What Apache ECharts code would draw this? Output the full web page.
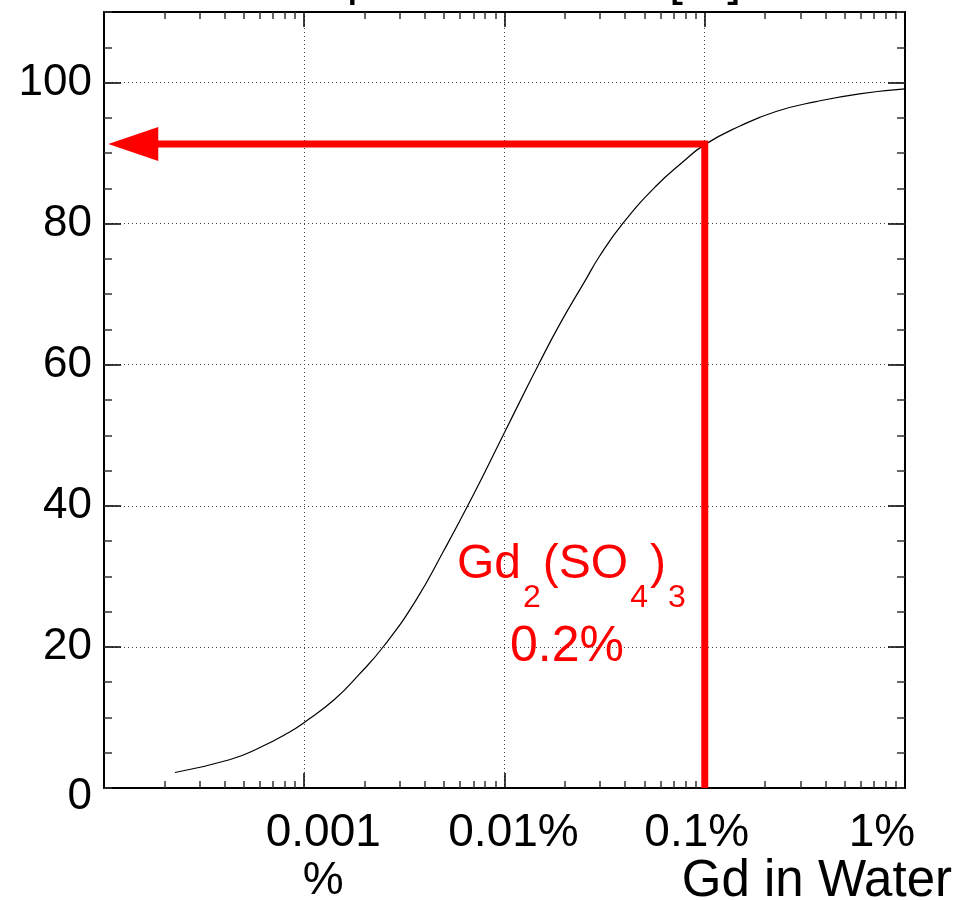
<!DOCTYPE html>
<html>
<head>
<meta charset="utf-8">
<script src="https://cdn.jsdelivr.net/npm/echarts@6/dist/echarts.min.js"></script>
<style>html,body{margin:0;padding:0;background:#fff}#c{width:957px;height:900px}</style>
</head>
<body>
<div id="c"></div>
<script>
// ---- data ----
const gdPercent = [2.26e-4, 4.23e-4, 5.97e-4, 8.41e-4, 1.0e-3, 1.41e-3, 1.88e-3, 2.51e-3, 3.61e-3, 5.01e-3,
  6.86e-3, 1.0e-2, 1.49e-2, 1.91e-2, 2.55e-2, 2.97e-2, 3.89e-2, 5.70e-2, 7.74e-2, 0.1,
  0.149, 0.227, 0.360, 0.592, 1.0];
const captureFraction = [2.2, 4.0, 5.7, 7.9, 9.3, 12.5, 16.1, 20.2, 26.6, 33.8,
  41.1, 50.4, 60.2, 66.0, 72.1, 75.3, 80.0, 85.3, 88.7, 91.2,
  93.8, 95.9, 97.3, 98.4, 99.1];
const xTickValues = [1e-4, 1e-3, 1e-2, 1e-1, 1];
const xTickLabels = ['', '0.001\n%', '0.01%', '0.1%', '1%'];
const yTickValues = [0, 20, 40, 60, 80, 100];
const markerGd = 0.1;          // Gd concentration of the red marker line (%)
const markerFraction = 91.3;   // capture fraction read at the marker (%)
const arrowHeadAt = 1.4e-4;    // x position of the arrow head centre (%)
const titleText = 'Capture Fraction [%]';
const xTitle = 'Gd in Water';
const noteConc = '0.2%';

// minor log ticks 2..9 per decade, expressed as decade exponents
const xMinorExp = [];
for (let e = -4; e < 0; e++) for (let m = 2; m <= 9; m++) xMinorExp.push(e + Math.log10(m));

const FONT = "'Liberation Sans', Arial, Helvetica, sans-serif";
const labelStyleKeys = ['n', 'a', 'b', 'c', 'd'];
const baseRich = {fontSize: 46, lineHeight: 48, fontFamily: FONT, color: '#000'};
const xRich = {
  n: Object.assign({}, baseRich),
  a: Object.assign({}, baseRich, {padding: [0, 0, 0, 38]}),
  b: Object.assign({}, baseRich, {padding: [0, 0, 0, 18]}),
  c: Object.assign({}, baseRich, {padding: [0, 16, 0, 0]}),
  d: Object.assign({}, baseRich, {padding: [0, 46, 0, 0]})
};
function xLabel(v) {
  const i = xTickValues.findIndex(t => Math.abs(Math.log10(t) - Math.log10(v)) < 1e-6);
  if (i < 0 || !xTickLabels[i]) return '';
  const k = labelStyleKeys[i];
  return xTickLabels[i].split('\n').map(s => '{' + k + '|' + s + '}').join('\n');
}
function yLabel(v) {
  if (yTickValues.indexOf(v) < 0) return '';
  if (v === 0) return '{z|0}';
  return '{y|' + v + '}';
}

const frame = {color: '#000', width: 2};
const majorTick = {color: '#000', width: 1.5};
const minorTickStyle = {color: '#333', width: 1.5};
const dotted = {color: '#444', width: 1, type: [1, 3]};

const xBase = {type: 'log', logBase: 10, min: 1e-4, max: 1, gridIndex: 0};
const xExpBase = {type: 'value', min: -4, max: 0, gridIndex: 0};
const yBase = {type: 'value', min: 0, max: 110, gridIndex: 0};

const chart = echarts.init(document.getElementById('c'), null, {renderer: 'canvas'});
chart.setOption({
  animation: false,
  backgroundColor: '#fff',
  grid: {left: 104, right: 52, top: 12, bottom: 112, outerBoundsMode: 'none', containLabel: false},
  xAxis: [
    Object.assign({}, xBase, {
      position: 'bottom',
      axisLine: {show: true, onZero: false, lineStyle: frame},
      axisTick: {show: true, inside: true, length: 15, customValues: xTickValues, lineStyle: majorTick},
      axisLabel: {show: true, customValues: xTickValues, margin: 21, formatter: xLabel, rich: xRich,
        fontSize: 46, fontFamily: FONT, color: '#000', showMinLabel: true, showMaxLabel: true, hideOverlap: false},
      splitLine: {show: true, lineStyle: dotted}
    }),
    Object.assign({}, xBase, {
      position: 'top',
      axisLine: {show: true, onZero: false, lineStyle: frame},
      axisTick: {show: true, inside: true, length: 15, customValues: xTickValues, lineStyle: majorTick},
      axisLabel: {show: false}, splitLine: {show: false}
    }),
    Object.assign({}, xExpBase, {
      position: 'bottom',
      axisLine: {show: false, onZero: false},
      axisTick: {show: true, inside: true, length: 7, customValues: xMinorExp, lineStyle: minorTickStyle},
      axisLabel: {show: false}, splitLine: {show: false}
    }),
    Object.assign({}, xExpBase, {
      position: 'top',
      axisLine: {show: false, onZero: false},
      axisTick: {show: true, inside: true, length: 7, customValues: xMinorExp, lineStyle: minorTickStyle},
      axisLabel: {show: false}, splitLine: {show: false}
    })
  ],
  yAxis: [
    Object.assign({}, yBase, {
      position: 'left', interval: 20,
      axisLine: {show: true, onZero: false, lineStyle: frame},
      axisTick: {show: true, inside: true, length: 17, lineStyle: majorTick},
      axisLabel: {show: true, margin: 12, formatter: yLabel, fontSize: 44, fontFamily: FONT, color: '#000',
        rich: {y: {fontSize: 44, fontFamily: FONT, color: '#000'},
               z: {fontSize: 44, fontFamily: FONT, color: '#000', padding: [18, 0, 0, 0]}}},
      splitLine: {show: true, lineStyle: dotted}
    }),
    Object.assign({}, yBase, {
      position: 'right', interval: 20,
      axisLine: {show: true, onZero: false, lineStyle: frame},
      axisTick: {show: true, inside: true, length: 17, lineStyle: majorTick},
      axisLabel: {show: false}, splitLine: {show: false}
    }),
    Object.assign({}, yBase, {
      position: 'left', interval: 5,
      axisLine: {show: false, onZero: false},
      axisTick: {show: true, inside: true, length: 8, lineStyle: minorTickStyle},
      axisLabel: {show: false}, splitLine: {show: false}
    }),
    Object.assign({}, yBase, {
      position: 'right', interval: 5,
      axisLine: {show: false, onZero: false},
      axisTick: {show: true, inside: true, length: 8, lineStyle: minorTickStyle},
      axisLabel: {show: false}, splitLine: {show: false}
    })
  ],
  series: [
    {
      type: 'line', xAxisIndex: 0, yAxisIndex: 0,
      data: gdPercent.map((x, i) => [x, captureFraction[i]]),
      showSymbol: false, symbol: 'none', smooth: 0.5,
      lineStyle: {color: '#000', width: 1.2}, z: 3
    },
    {
      type: 'line', xAxisIndex: 0, yAxisIndex: 0,
      data: [[markerGd, 0], [markerGd, markerFraction], [arrowHeadAt, markerFraction]],
      showSymbol: false, symbol: 'none',
      lineStyle: {color: '#ff0000', width: 7, join: 'miter', cap: 'butt'}, z: 4,
      markPoint: {
        symbol: 'triangle', symbolSize: [34, 50], symbolRotate: 90,
        itemStyle: {color: '#ff0000'}, label: {show: false},
        data: [{coord: [arrowHeadAt, markerFraction]}]
      }
    }
  ],
  graphic: [
    {type: 'text', x: 512, y: -19, silent: true,
     style: {text: titleText, fontSize: 50, fontFamily: FONT, fill: '#000', align: 'center', verticalAlign: 'middle'}},
    {type: 'text', x: 952, y: 882, silent: true,
     style: {text: xTitle, fontSize: 51, fontFamily: FONT, fill: '#000', align: 'right', verticalAlign: 'middle'}},
    {type: 'text', x: 457, y: 541, silent: true, z: 10,
     style: {
       text: '{m|Gd}{s|2}{m|(SO}{s|4}{m|)}{s|3}', align: 'left', verticalAlign: 'top',
       rich: {
         m: {fontSize: 48, lineHeight: 48, fontFamily: FONT, fill: '#ff0000', verticalAlign: 'top'},
         s: {fontSize: 32, lineHeight: 32, fontFamily: FONT, fill: '#ff0000', verticalAlign: 'top', padding: [41, 2, 0, 2]}
       }
     }},
    {type: 'text', x: 567, y: 647, silent: true, z: 10,
     style: {text: noteConc, fontSize: 50, fontFamily: FONT, fill: '#ff0000', align: 'center', verticalAlign: 'middle'}}
  ]
});
</script>
</body>
</html>
